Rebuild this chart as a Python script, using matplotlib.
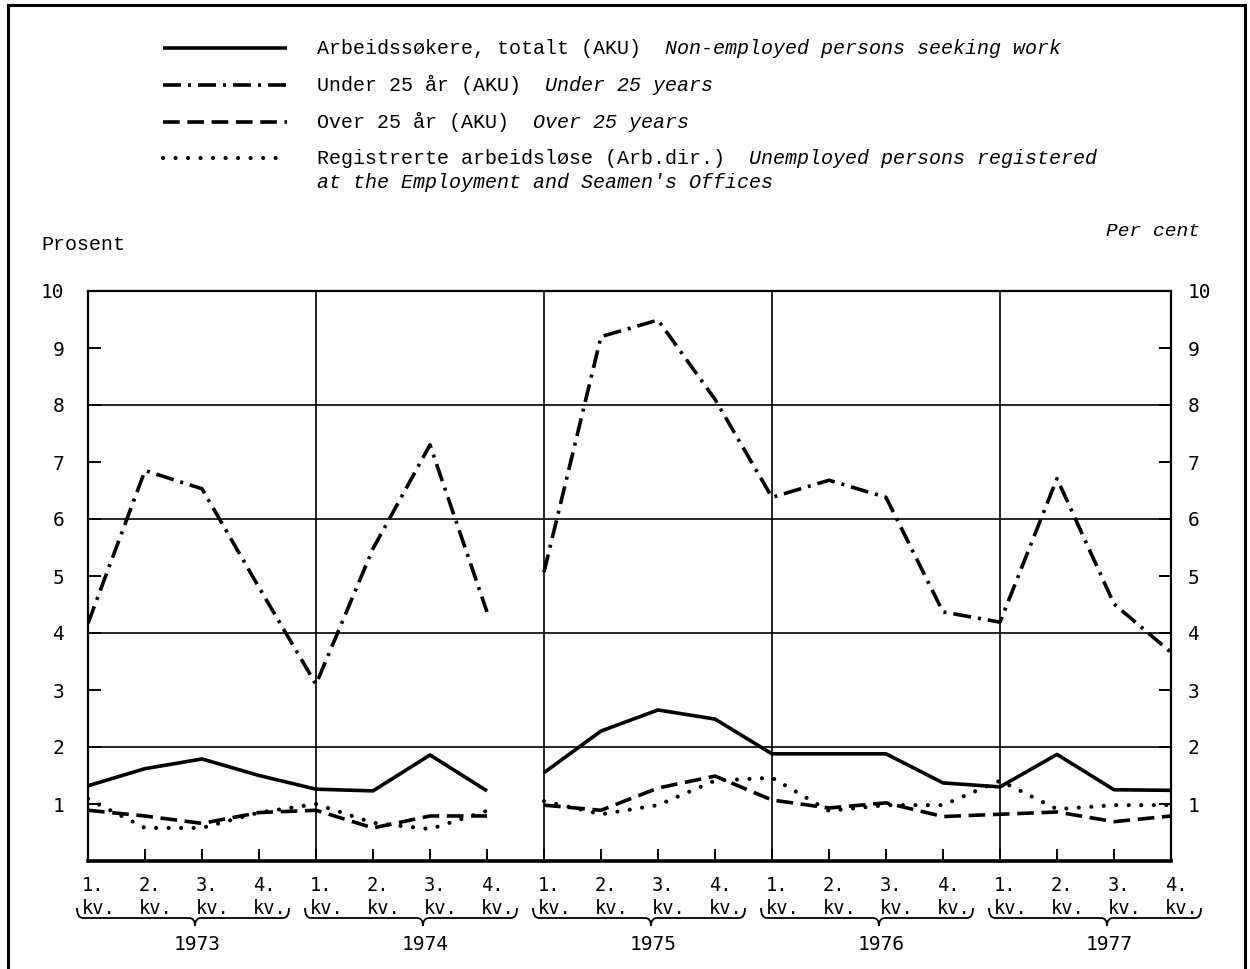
import numpy as np
import matplotlib
matplotlib.use("Agg")
import matplotlib.pyplot as plt
from matplotlib.lines import Line2D
from matplotlib.path import Path
from matplotlib.patches import PathPatch
from matplotlib.transforms import ScaledTranslation

plt.rcParams['lines.scale_dashes'] = False

# quarterly unemployment rates, per cent
years = [1973, 1974, 1975, 1976, 1977]
quarters = ["1.\nkv.", "2.\nkv.", "3.\nkv.", "4.\nkv."]

total = [1.32, 1.62, 1.79, 1.50, 1.26, 1.23, 1.86, 1.23,
         1.55, 2.28, 2.65, 2.49, 1.88, 1.88, 1.88, 1.37,
         1.30, 1.87, 1.25, 1.24]
under25 = [4.17, 6.85, 6.53, 4.80, 3.10, 5.48, 7.30, 4.37,
           5.07, 9.20, 9.49, 8.10, 6.38, 6.68, 6.38, 4.37,
           4.19, 6.71, 4.51, 3.66]
over25 = [0.89, 0.79, 0.66, 0.85, 0.89, 0.58, 0.79, 0.79,
          0.98, 0.89, 1.28, 1.49, 1.07, 0.93, 1.02, 0.78,
          0.82, 0.86, 0.69, 0.79]
registered = [1.09, 0.58, 0.58, 0.85, 1.00, 0.67, 0.56, 0.88,
              1.05, 0.82, 0.98, 1.41, 1.46, 0.88, 0.98, 0.98,
              1.41, 0.91, 0.98, 0.98]

legend_no = ["Arbeidssøkere, totalt (AKU)", "Under 25 år (AKU)",
             "Over 25 år (AKU)", "Registrerte arbeidsløse (Arb.dir.)"]
legend_en = ["Non-employed persons seeking work", "Under 25 years",
             "Over 25 years", "Unemployed persons registered"]
legend_en2 = "at the Employment and Seamen's Offices"

W, H = 1250, 969
fig = plt.figure(figsize=(W / 100, H / 100), dpi=100)
ax = fig.add_axes([88 / W, 1 - 861 / H, 1083 / W, 570 / H])

mono = "Liberation Mono"
tickfont = "DejaVu Sans Mono"

styles = [
    dict(color="black", lw=2.6, linestyle="-", solid_capstyle="butt"),
    dict(color="black", lw=2.6, linestyle=(0, (13, 5, 2.2, 5))),
    dict(color="black", lw=2.6, linestyle=(0, (12, 5.5))),
    dict(color="black", lw=3.0, linestyle=(0, (0.01, 9)), dash_capstyle="round"),
]
series = [total, under25, over25, registered]

x = np.arange(len(total))
# no survey data between 1974 Q4 and 1975 Q1: line is broken there
for vals, st in zip(series, styles):
    vals = np.array(vals)
    for seg in (slice(0, 8), slice(8, len(vals))):
        ax.plot(x[seg], vals[seg], **st, zorder=3)

ax.set_xlim(0, len(total) - 1)
ax.set_ylim(0, 10)

for yv in range(2, 10, 2):
    ax.axhline(yv, color="black", lw=1.2, zorder=1)
for i in range(1, len(years)):
    ax.axvline(4 * i, color="black", lw=1.2, zorder=1)

for side in ["left", "right", "top"]:
    ax.spines[side].set_linewidth(1.6)
ax.spines["bottom"].set_linewidth(2.6)

ax.set_yticks(range(1, 11))
ax.set_yticklabels([str(v) for v in range(1, 11)], family=tickfont, fontsize=14)
ax.tick_params(axis="y", direction="in", length=9, width=1.4, pad=12,
               left=True, right=True, labelleft=True, labelright=True)
ax.set_xticks(x)
ax.set_xticklabels([])
ax.tick_params(axis="x", direction="in", length=9, width=1.4)

shift = ScaledTranslation(-7 / 100, 0, fig.dpi_scale_trans)
for tk in ax.yaxis.get_major_ticks():
    tk.label1.set_horizontalalignment("right")
    tk.label1.set_transform(tk.label1.get_transform() + shift)
    tk.label2.set_horizontalalignment("left")
    tk.label2.set_family(tickfont)
    tk.label2.set_fontsize(14)

# quarter labels under each tick
fig.canvas.draw()
to_px = ax.transData.transform
for i in x:
    px = to_px((i, 0))[0]
    fig.text((px - 6) / W, 1 - 897 / H, quarters[i % 4], family=tickfont,
             fontsize=13.5, ha="left", va="center", linespacing=1.3)

# braces and year labels
for k, yr in enumerate(years):
    q1 = to_px((4 * k, 0))[0]
    q3 = to_px((4 * k + 2, 0))[0]
    q4 = to_px((4 * k + 3, 0))[0]
    x0, x1, xm = q1 - 11, q4 + 30, q3 - 7
    ye, yb, yt = H - 908, H - 918, H - 926
    r = 6
    verts = [(x0, ye), (x0, yb), (x0 + r, yb), (xm - r, yb), (xm, yb), (xm, yt),
             (xm, yb), (xm + r, yb), (x1 - r, yb), (x1, yb), (x1, ye)]
    codes = [Path.MOVETO, Path.CURVE3, Path.CURVE3, Path.LINETO, Path.CURVE3, Path.CURVE3,
             Path.CURVE3, Path.CURVE3, Path.LINETO, Path.CURVE3, Path.CURVE3]
    verts = [(vx / W, vy / H) for vx, vy in verts]
    fig.add_artist(PathPatch(Path(verts, codes), transform=fig.transFigure,
                             fill=False, lw=1.3, color="black"))
    fig.text((q3 - 5) / W, 1 - 945 / H, str(yr), family=tickfont, fontsize=14,
             ha="center", va="center")

# axis captions
fig.text(41 / W, 1 - 245 / H, "Prosent", family=mono, fontsize=14.4, ha="left", va="center")
fig.text(1200 / W, 1 - 232 / H, "Per cent", family=mono, style="italic", fontsize=14,
         ha="right", va="center")

# legend
leg_y = [48, 85, 122, 158]
for yy, st, no, en in zip(leg_y, styles, legend_no, legend_en):
    fig.add_artist(Line2D([163 / W, 287 / W], [1 - yy / H, 1 - yy / H],
                          transform=fig.transFigure, **st))
    t = fig.text(317 / W, 1 - yy / H, no, family=mono, fontsize=14.4,
                 ha="left", va="center")
    ax.annotate(en, xy=(1, 0), xycoords=t, xytext=(17, 0), textcoords="offset points",
                family=mono, style="italic", fontsize=14.4, ha="left", va="bottom",
                annotation_clip=False)
fig.text(317 / W, 1 - 182 / H, legend_en2, family=mono, style="italic", fontsize=14.4,
         ha="left", va="center")

# page frame: top, left and right edges
for xs, ys in [([8, 1245], [5, 5]), ([8, 8], [5, H]), ([1245, 1245], [5, H])]:
    fig.add_artist(Line2D([v / W for v in xs], [1 - v / H for v in ys],
                          transform=fig.transFigure, color="black", lw=2.2))

fig.savefig("out.png", dpi=100)
